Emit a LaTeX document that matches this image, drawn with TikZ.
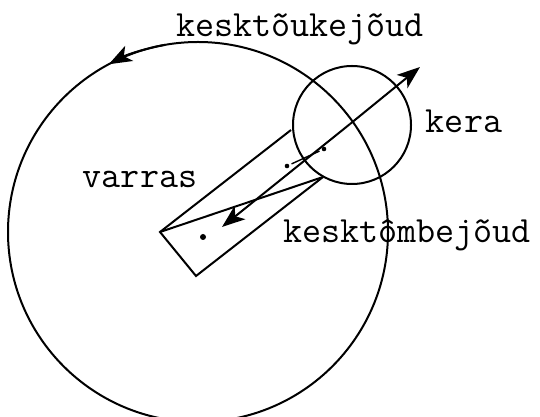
\documentclass[tikz,border=0pt]{standalone}
\usepackage{fontspec}
\usetikzlibrary{arrows.meta}

\begin{document}
\begin{tikzpicture}[x=1pt, y=1pt, line width=2pt,
    force/.style={-{Stealth[length=23pt, width=17pt, inset=6pt]}},
    lbl/.style={anchor=base, inner sep=0pt, font=\ttfamily\addfontfeatures{FakeBold=1.5}\fontsize{37}{42}\selectfont}]
    \useasboundingbox (0,0) rectangle (540,417);
    % rotation circle and ball
    \coordinate (O) at (198,185);
    \coordinate (K) at (352,292);
    \draw (O) circle (190);
    \draw[force] (O) ++(100:190) arc[start angle=100, end angle=118, radius=190];
    \draw (K) circle (59);
    % rod
    \coordinate (A) at (160,185);
    \coordinate (B) at (196,141);
    \coordinate (P1) at (291,287);
    \coordinate (P2) at (323,240);
    \draw (P1) -- (A) -- (B) -- (P2);
    \draw (A) -- (P2);
    \fill (203,180) circle (3);
    % forces
    \coordinate (c) at (350,293);
    \coordinate (out) at (420,350);
    \coordinate (in) at (222,190);
    \draw[force] (c) -- (out);
    \draw[force] (c) -- (in);
    \coordinate (m1) at (287,251);
    \coordinate (m2) at (324,268);
    \fill (m1) circle (2.3);
    \fill (m2) circle (2.3);
    \draw[line width=1.4pt, shorten <=5pt, shorten >=5pt] (m1) -- (m2);
    % labels
    \node[lbl] (tou) at (300,380) {kesktõukejõud};
    \node[lbl] (varras) at (140,229) {varras};
    \node[lbl] (kera) at (464,284) {kera};
    \node[lbl] (tom) at (407,174) {kesktômbejõud};
\end{tikzpicture}
\end{document}
